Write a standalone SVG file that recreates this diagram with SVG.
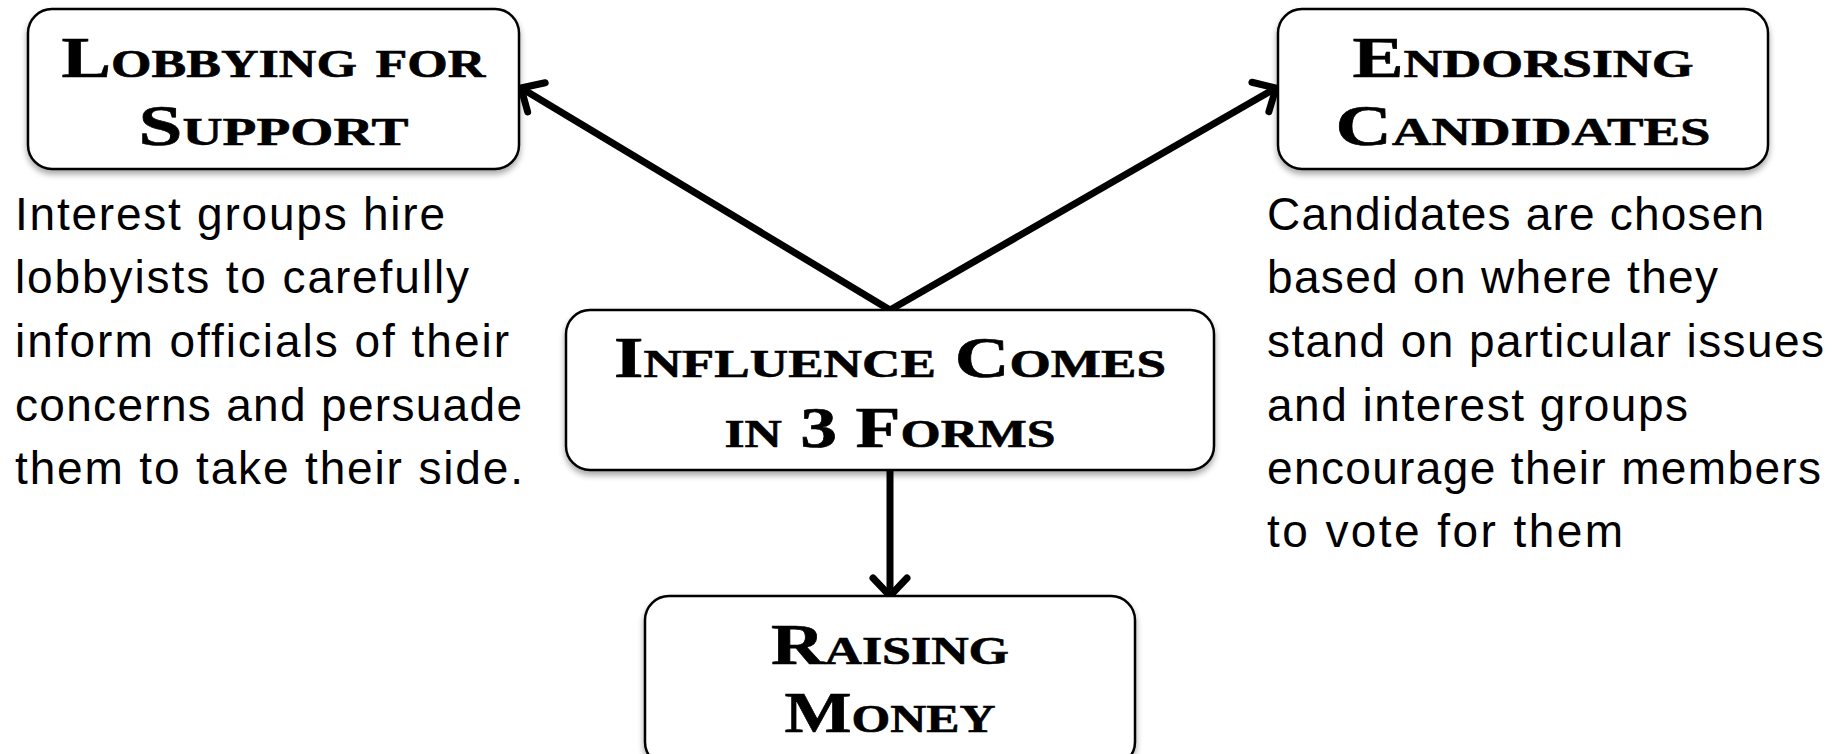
<svg xmlns="http://www.w3.org/2000/svg" width="1848" height="754" viewBox="0 0 1848 754">
<style>
.box{fill:#fff;stroke:#000;stroke-width:2.5;filter:url(#sh)}
.title{font-family:"Liberation Serif",serif;font-weight:bold;font-variant:small-caps;font-size:57px;text-anchor:middle;fill:#000;stroke:#000;stroke-width:0.6}
.body{font-family:"Liberation Sans",Arial,sans-serif;font-size:46px;fill:#000}
.conn{stroke:#000;stroke-width:7;fill:none;marker-end:url(#arr)}
</style>
<defs>
<filter id="sh" x="-10%" y="-10%" width="120%" height="130%">
<feGaussianBlur in="SourceAlpha" stdDeviation="3"/>
<feOffset dx="0" dy="4" result="b"/>
<feComponentTransfer><feFuncA type="linear" slope="0.35"/></feComponentTransfer>
<feMerge><feMergeNode/><feMergeNode in="SourceGraphic"/></feMerge>
</filter>
<marker id="arr" markerUnits="userSpaceOnUse" markerWidth="50" markerHeight="50" viewBox="-25 -25 50 50" refX="0" refY="0" orient="auto">
<path d="M-18,-17 L0,0 L-18,17" fill="none" stroke="#000" stroke-width="7" stroke-linecap="round" stroke-linejoin="miter"/>
</marker>
</defs>
<g id="connectors">
<line class="conn" x1="890" y1="310" x2="521" y2="88"/>
<line class="conn" x1="890" y1="310" x2="1276" y2="88"/>
<line class="conn" x1="890" y1="470" x2="890" y2="596"/>
</g>
<g id="lobbying">
<rect class="box" x="28" y="9" width="491" height="160" rx="24"/>
<text class="title" x="273.5" y="77" textLength="424" lengthAdjust="spacingAndGlyphs">Lobbying for</text>
<text class="title" x="273.5" y="145" textLength="270" lengthAdjust="spacingAndGlyphs">Support</text>
</g>
<g id="endorsing">
<rect class="box" x="1278" y="9" width="490" height="160" rx="24"/>
<text class="title" x="1523" y="77" textLength="341" lengthAdjust="spacingAndGlyphs">Endorsing</text>
<text class="title" x="1523" y="145" textLength="375" lengthAdjust="spacingAndGlyphs">Candidates</text>
</g>
<g id="influence">
<rect class="box" x="566" y="310" width="648" height="160" rx="24"/>
<text class="title" x="890" y="377" textLength="552" lengthAdjust="spacingAndGlyphs">Influence Comes</text>
<text class="title" x="890" y="447" textLength="331" lengthAdjust="spacingAndGlyphs">in 3 Forms</text>
</g>
<g id="raising">
<rect class="box" x="645" y="596" width="490" height="170" rx="24"/>
<text class="title" x="890" y="664" textLength="238" lengthAdjust="spacingAndGlyphs">Raising</text>
<text class="title" x="890" y="732" textLength="211" lengthAdjust="spacingAndGlyphs">Money</text>
</g>
<g id="lobbying-desc" class="body">
<text x="15" y="230" textLength="430">Interest groups hire</text>
<text x="15" y="293" textLength="454">lobbyists to carefully</text>
<text x="15" y="357" textLength="494">inform officials of their</text>
<text x="15" y="421" textLength="507">concerns and persuade</text>
<text x="15" y="484" textLength="508">them to take their side.</text>
</g>
<g id="endorsing-desc" class="body">
<text x="1267" y="230" textLength="497">Candidates are chosen</text>
<text x="1267" y="293" textLength="451">based on where they</text>
<text x="1267" y="357" textLength="557">stand on particular issues</text>
<text x="1267" y="421" textLength="421">and interest groups</text>
<text x="1267" y="484" textLength="554">encourage their members</text>
<text x="1267" y="547" textLength="356">to vote for them</text>
</g>
</svg>
